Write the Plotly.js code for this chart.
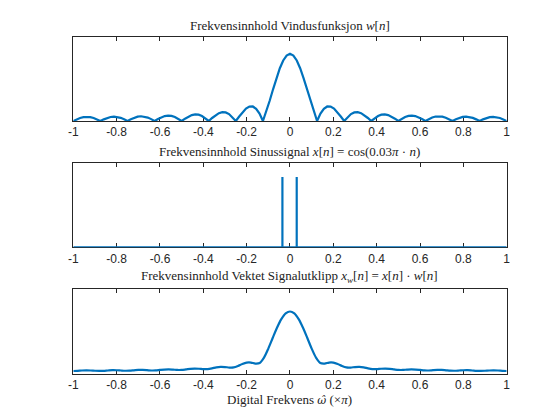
<!DOCTYPE html>
<html><head><meta charset="utf-8">
<script src="https://cdn.plot.ly/plotly-3.0.1.min.js"></script>
<style>html,body{margin:0;padding:0;background:#fff}#chart{width:560px;height:420px}</style>
</head><body><div id="chart"></div>
<script>
// x tick positions and labels (omega / pi)
const tickValues = [-1,-0.8,-0.6,-0.4,-0.2,0,0.2,0.4,0.6,0.8,1];
const tickLabels = ['-1','-0.8','-0.6','-0.4','-0.2','0','0.2','0.4','0.6','0.8','1'];

// Panel 1: window magnitude, sampled every 1/64 from -1 to 1
const windowStart = -1, windowStep = 1/64;
const windowMag = [
 0,0.38,0.71,0.93,1.00,0.93,0.71,0.39,
 0,0.39,0.73,0.96,1.04,0.97,0.75,0.41,
 0,0.42,0.78,1.03,1.13,1.06,0.82,0.45,
 0,0.47,0.88,1.17,1.29,1.22,0.95,0.53,
 0,0.56,1.05,1.41,1.58,1.50,1.19,0.66,
 0,0.72,1.38,1.87,2.12,2.05,1.65,0.94,
 0,1.06,2.10,2.95,3.44,3.46,2.91,1.75,
 0,2.24,4.82,7.55,10.20,12.56,14.41,15.59,
 16,
 15.59,14.41,12.56,10.20,7.55,4.82,2.24,0,
 1.75,2.91,3.46,3.44,2.95,2.10,1.06,0,
 0.94,1.65,2.05,2.12,1.87,1.38,0.72,0,
 0.66,1.19,1.50,1.58,1.41,1.05,0.56,0,
 0.53,0.95,1.22,1.29,1.17,0.88,0.47,0,
 0.45,0.82,1.06,1.13,1.03,0.78,0.42,0,
 0.41,0.75,0.97,1.04,0.96,0.73,0.39,0,
 0.39,0.71,0.93,1.00,0.93,0.71,0.38,0
];

// Panel 2: sinusoid spectrum (two spikes)
const sineFreq = [-1,-0.035,-0.035,-0.035,0.031,0.031,0.031,1];
const sineMag  = [0,0,1,0,0,1,0,0];

// Panel 3: windowed signal magnitude, sampled every 0.02 from -1 to 1
const weightedStart = -1, weightedStep = 0.02;
const weightedMag = [
 0.45,0.48,0.53,0.56,0.54,0.49,0.46,0.48,0.54,0.59,
 0.58,0.53,0.49,0.51,0.57,0.63,0.63,0.59,0.54,0.55,
 0.63,0.70,0.73,0.69,0.63,0.64,0.73,0.83,0.88,0.85,
 0.78,0.78,0.91,1.09,1.18,1.15,1.06,1.08,1.34,1.70,
 1.94,1.95,1.77,1.87,2.83,4.44,6.32,8.15,9.68,10.70,
 11.05,
 10.70,9.68,8.15,6.32,4.44,2.83,1.87,1.77,1.95,1.94,
 1.70,1.34,1.08,1.06,1.15,1.18,1.09,0.91,0.78,0.78,
 0.85,0.88,0.83,0.73,0.64,0.63,0.69,0.73,0.70,0.63,
 0.55,0.54,0.59,0.63,0.63,0.57,0.51,0.49,0.53,0.58,
 0.59,0.54,0.48,0.46,0.49,0.54,0.56,0.53,0.48,0.45
];

const titles = [
 'Frekvensinnhold Vindusfunksjon <i>w</i>[<i>n</i>]',
 'Frekvensinnhold Sinussignal <i>x</i>[<i>n</i>] = cos(0.03<i>π</i> · <i>n</i>)',
 'Frekvensinnhold Vektet Signalutklipp <i>x</i><sub><i>w</i></sub>[<i>n</i>] = <i>x</i>[<i>n</i>] · <i>w</i>[<i>n</i>]'
];
const xLabel = 'Digital Frekvens <span style="font-family:\'DejaVu Serif\';font-style:italic;font-size:11px">ω\u0302</span> (×<i>π</i>)';

const blue = '#0072BD', axc = '#262626';
const xDom = [0.1309, 0.9048];
const yDoms = [[0.7119,0.9119],[0.4112,0.6119],[0.1107,0.3112]];
const yRanges = [[0,20],[0,1.2],[0,15]];

const lineStyle = {color: blue, width: 2.2};
const traces = [
 {type:'scatter', mode:'lines', x0:windowStart, dx:windowStep, y:windowMag, line:lineStyle, xaxis:'x', yaxis:'y', cliponaxis:false, hoverinfo:'skip'},
 {type:'scatter', mode:'lines', x:sineFreq, y:sineMag, line:lineStyle, xaxis:'x2', yaxis:'y2', cliponaxis:false, hoverinfo:'skip'},
 {type:'scatter', mode:'lines', x0:weightedStart, dx:weightedStep, y:weightedMag, line:Object.assign({shape:'spline', smoothing:0.8}, lineStyle), xaxis:'x3', yaxis:'y3', cliponaxis:false, hoverinfo:'skip'}
];

function xAxis(i){
  return {domain:xDom, range:[-1,1], anchor: i===0?'y':'y'+(i+1),
    tickmode:'array', tickvals:tickValues, ticktext:tickLabels,
    ticks:'inside', ticklen:4, tickwidth:1, tickcolor:axc,
    showline:true, linecolor:axc, linewidth:1, mirror:'ticks',
    showgrid:false, zeroline:false, layer:'below traces',
    tickfont:{family:'Liberation Sans, Arial, sans-serif', size:12, color:axc}, fixedrange:true};
}
function yAxis(i){
  return {domain:yDoms[i], range:yRanges[i], anchor: i===0?'x':'x'+(i+1),
    showline:true, linecolor:axc, linewidth:1, mirror:true, ticks:'', showticklabels:false,
    showgrid:false, zeroline:false, layer:'below traces', fixedrange:true};
}

const titleFont = {family:'Liberation Serif, Times New Roman, serif', size:13, color:'#222'};
const annotations = titles.map((t,i)=>({text:t, xref:'paper', yref:'paper', x:(xDom[0]+xDom[1])/2,
  y:yDoms[i][1], xanchor:'center', yanchor:'bottom', yshift:2, showarrow:false, font:titleFont}));
annotations.push({text:xLabel, xref:'paper', yref:'paper', x:(xDom[0]+xDom[1])/2, y:0.03,
  xanchor:'center', yanchor:'bottom', yshift:-2, showarrow:false, font:titleFont});

const layout = {width:560, height:420, margin:{l:0,r:0,t:0,b:0}, paper_bgcolor:'#fff', plot_bgcolor:'#fff',
  showlegend:false, annotations:annotations,
  xaxis:xAxis(0), xaxis2:xAxis(1), xaxis3:xAxis(2), yaxis:yAxis(0), yaxis2:yAxis(1), yaxis3:yAxis(2)};

Plotly.newPlot('chart', traces, layout, {staticPlot:true, displayModeBar:false});
</script></body></html>
